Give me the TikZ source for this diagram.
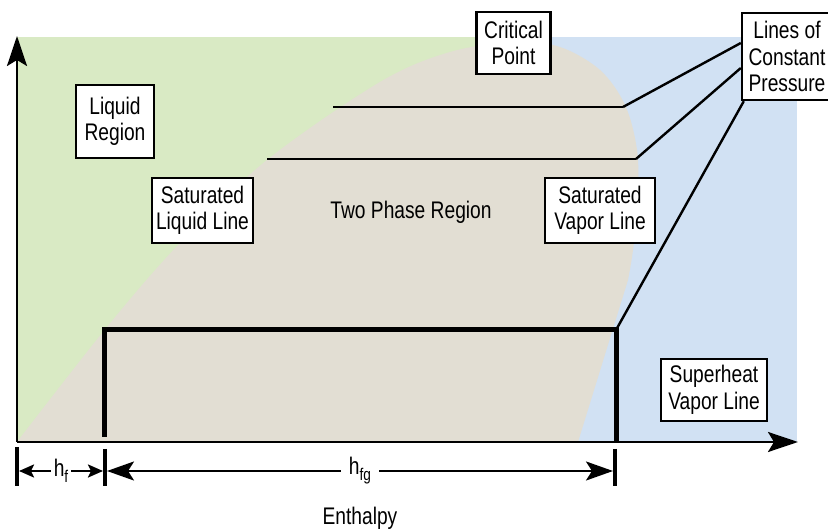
\documentclass[tikz,border=0pt]{standalone}
\usepackage{fontspec}
\setmainfont{Liberation Sans}[FakeStretch=0.8]
\usetikzlibrary{arrows.meta}
\definecolor{liqgreen}{RGB}{217,234,196}
\definecolor{vapblue}{RGB}{209,225,243}
\definecolor{domebeige}{RGB}{226,222,211}
\begin{document}
\begin{tikzpicture}[x=1pt,y=-1pt,
  txt/.style={font=\fontsize{24}{26.5}\selectfont, align=center},
  lbl/.style={txt, draw=black, line width=2.4pt, fill=white, inner sep=0pt},
  thinline/.style={line width=2.4pt},
  thickline/.style={line width=5pt},
  tickline/.style={line width=4pt},
  axisarrow/.style={line width=2.6pt, -{Stealth[length=30pt,width=20pt,inset=6pt,fill=black]}},
  dimbig/.style={line width=2.4pt, {Stealth[length=27pt,width=19pt,inset=6pt,fill=black]}-{Stealth[length=27pt,width=19pt,inset=6pt,fill=black]}},
  dimsmall/.style={line width=2.4pt, {Stealth[length=15pt,width=13pt,inset=3pt,fill=black]}-{Stealth[length=15pt,width=13pt,inset=3pt,fill=black]}},
  dimlabel/.style={txt, fill=white, inner sep=4pt}
]
\useasboundingbox (0,0) rectangle (828,529);
\fill[white] (0,0) rectangle (828,529);
% regions
\fill[liqgreen] (17,37) rectangle (515,442);
\fill[vapblue] (515,37) rectangle (797,442);
\fill[domebeige] plot[smooth, tension=0.55] coordinates {(17,442) (107,327) (180,243) (267,160) (380,82) (450,52) (515,42) (560,47) (600,70) (625,105) (637,150) (638,200) (633,250) (628,280)} -- (578,442) -- cycle;

% coordinates
\coordinate (O) at (17,442);
\coordinate (ytip) at (17,36);
\coordinate (xtip) at (798,442);
\coordinate (p1s) at (333,107);
\coordinate (p1e) at (623,107);
\coordinate (p2s) at (267,159);
\coordinate (p2e) at (636,159);
\coordinate (b1) at (104,437);
\coordinate (b2) at (104,330);
\coordinate (b3) at (616,330);
\coordinate (b4) at (616,442);
\coordinate (t0a) at (17,447);
\coordinate (t0b) at (17,486);
\coordinate (t1a) at (105,449);
\coordinate (t1b) at (105,486);
\coordinate (t2a) at (615,449);
\coordinate (t2b) at (615,486);
\coordinate (d0) at (17,471);
\coordinate (d1) at (105,471);
\coordinate (d2) at (615,471);

% pressure lines
\draw[thinline] (p1s) -- (p1e);
\draw[thinline] (p2s) -- (p2e);
\draw[thickline, line cap=butt, line join=miter] (b1) -- (b2) -- (b3) -- (b4);

% axes
\draw[axisarrow] (O) -- (ytip);
\draw[axisarrow] (O) -- (xtip);

% boxes
\node[lbl, minimum width=78pt, minimum height=73pt] (liq) at (115,121.5) {Liquid\\Region};
\node[lbl, minimum width=101pt, minimum height=65pt] (satl) at (202.5,210.5) {Saturated\\Liquid Line};
\node[lbl, minimum width=74pt, minimum height=62pt] (crit) at (513.5,43) {Critical\\Point};
\node[lbl, minimum width=110pt, minimum height=65pt] (satv) at (600,210.5) {Saturated\\Vapor Line};
\node[lbl, minimum width=90pt, minimum height=87pt] (lines) at (787,56.5) {Lines of\\Constant\\Pressure};
\node[lbl, minimum width=106pt, minimum height=62pt] (sup) at (714,390) {Superheat\\Vapor Line};
\node[txt] (two) at (411,212) {Two Phase Region};
\node[txt, anchor=base] (enth) at (360,524) {Enthalpy};

% connectors to the pressure label
\draw[thinline] (p1e) -- ([yshift=13.5pt]lines.west);
\draw[thinline] (p2e) -- ([yshift=-11.5pt]lines.west);
\draw[thinline] (b3) -- ([xshift=3pt]lines.south west);

% dimension ticks
\draw[tickline] (t0a) -- (t0b);
\draw[tickline] (t1a) -- (t1b);
\draw[tickline] (t2a) -- (t2b);

% dimension arrows
\draw[dimsmall] ([xshift=2pt]d0) -- ([xshift=-2pt]d1) node[dimlabel, midway, inner sep=3pt] (hf) {h\raisebox{-6pt}{\fontsize{17}{17}\selectfont f}};
\draw[dimbig] ([xshift=2pt]d1) -- ([xshift=-2pt]d2) node[dimlabel, pos=0.5, inner xsep=8pt] (hfg) {h\raisebox{-6pt}{\fontsize{17}{17}\selectfont fg}};
\end{tikzpicture}
\end{document}
